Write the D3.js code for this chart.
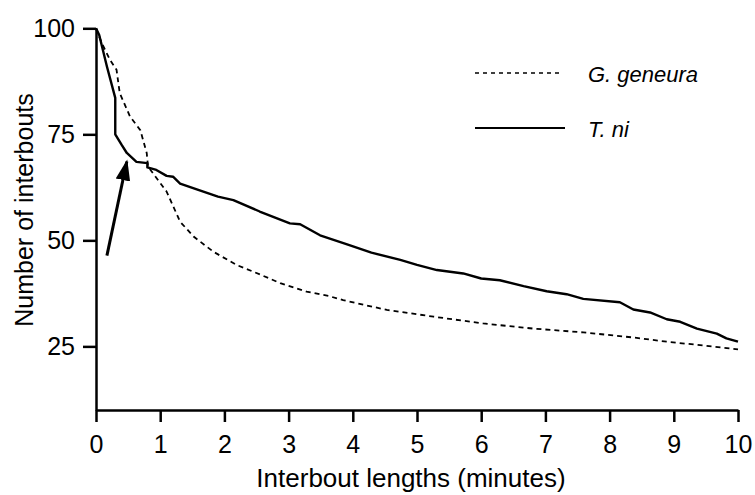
<!DOCTYPE html>
<html>
<head>
<meta charset="utf-8">
<script src="https://cdn.jsdelivr.net/npm/d3@7"></script>
<style>
  body { margin: 0; background: #fff; }
  text { font-family: "Liberation Sans", Arial, Helvetica, sans-serif; fill: #000; }
</style>
</head>
<body>
<div id="chart"></div>
<script>
// T. ni (solid) — time in minutes, number of interbouts
const tniTime  = [0, 0.05, 0.17, 0.3, 0.3, 0.4, 0.48, 0.63, 0.8, 0.8, 0.94, 1.1, 1.2, 1.31, 1.57, 1.9, 2.14, 2.55, 3.02, 3.18, 3.49, 3.9, 4.29, 4.74, 5.0, 5.31, 5.72, 6.0, 6.29, 6.66, 7.02, 7.33, 7.59, 8.16, 8.37, 8.63, 8.89, 9.1, 9.36, 9.67, 9.82, 10];
const tniCount = [100, 98.4, 91, 83.6, 75, 72.5, 70.6, 68.5, 68.2, 67.2, 66.6, 65.2, 65, 63.4, 62, 60.3, 59.5, 56.8, 54, 53.8, 51.2, 49.1, 47.1, 45.4, 44.2, 43, 42.2, 41, 40.6, 39.2, 38, 37.3, 36.2, 35.4, 33.7, 33, 31.4, 30.8, 29.2, 28, 26.9, 26.1];

// G. geneura (dashed)
const genTime  = [0, 0.09, 0.22, 0.32, 0.37, 0.53, 0.69, 0.79, 0.81, 1.1, 1.31, 1.52, 1.83, 2.19, 2.58, 2.87, 3.28, 3.62, 3.85, 4.53, 5.26, 6.03, 6.81, 7.59, 8.37, 8.89, 9.41, 10];
const genCount = [100, 96.5, 92.5, 90.2, 84.7, 79.2, 76, 70.6, 67.4, 61.5, 54.4, 50.9, 47.3, 44.2, 41.8, 39.9, 37.9, 36.9, 35.9, 33.6, 32, 30.4, 29.2, 28.3, 27.1, 26.1, 25.3, 24.3];

const xTicks = [0, 1, 2, 3, 4, 5, 6, 7, 8, 9, 10];
const yTicks = [25, 50, 75, 100];

// arrow: from (time, count) to (time, count)
const arrowFrom = [0.17, 46.4];
const arrowTo = [0.48, 68.6];

const width = 755, height = 495;

const svg = d3.select("#chart").append("svg")
    .attr("width", width)
    .attr("height", height);

const x = d3.scaleLinear().domain([0, 10]).range([96, 738]);
const y = d3.scaleLinear().domain([10, 100]).range([410, 28.3]);

// axes
const xAxis = svg.append("g")
    .attr("transform", "translate(0," + y(10) + ")")
    .call(d3.axisBottom(x).tickValues(xTicks).tickSize(12).tickSizeOuter(0).tickPadding(13));

const yAxis = svg.append("g")
    .attr("transform", "translate(" + x(0) + ",0)")
    .call(d3.axisLeft(y).tickValues(yTicks).tickSize(13).tickSizeOuter(0).tickPadding(8));

[xAxis, yAxis].forEach(function(ax) {
    ax.select(".domain").attr("stroke", "#000").attr("stroke-width", 2.5);
    ax.selectAll(".tick line").attr("stroke", "#000").attr("stroke-width", 2.5);
    ax.selectAll(".tick text")
        .attr("font-family", "Liberation Sans, Arial, sans-serif")
        .attr("font-size", 25)
        .attr("fill", "#000");
});

// lines
const line = d3.line()
    .x(function(d) { return x(d[0]); })
    .y(function(d) { return y(d[1]); });

svg.append("path")
    .datum(genTime.map(function(t, i) { return [t, genCount[i]]; }))
    .attr("d", line)
    .attr("fill", "none")
    .attr("stroke", "#000")
    .attr("stroke-width", 1.8)
    .attr("stroke-dasharray", "5,4");

svg.append("path")
    .datum(tniTime.map(function(t, i) { return [t, tniCount[i]]; }))
    .attr("d", line)
    .attr("fill", "none")
    .attr("stroke", "#000")
    .attr("stroke-width", 2.4)
    .attr("stroke-linejoin", "round");

// arrow
svg.append("defs").append("marker")
    .attr("id", "head")
    .attr("viewBox", "0 0 10 10")
    .attr("refX", 9).attr("refY", 5)
    .attr("markerWidth", 7).attr("markerHeight", 7)
    .attr("markerUnits", "strokeWidth")
    .attr("orient", "auto")
    .append("path")
    .attr("d", "M0,1.5 L10,5 L0,8.5 Z")
    .attr("fill", "#000");

svg.append("line")
    .attr("x1", x(arrowFrom[0])).attr("y1", y(arrowFrom[1]))
    .attr("x2", x(arrowTo[0])).attr("y2", y(arrowTo[1]))
    .attr("stroke", "#000")
    .attr("stroke-width", 3)
    .attr("marker-end", "url(#head)");

// legend
const legend = svg.append("g");
legend.append("line")
    .attr("x1", 475).attr("x2", 560).attr("y1", 73).attr("y2", 73)
    .attr("stroke", "#000").attr("stroke-width", 1.5).attr("stroke-dasharray", "4,4");
legend.append("text")
    .attr("x", 588).attr("y", 82)
    .attr("font-size", 22).attr("font-style", "italic")
    .text("G. geneura");
legend.append("line")
    .attr("x1", 475).attr("x2", 565).attr("y1", 128).attr("y2", 128)
    .attr("stroke", "#000").attr("stroke-width", 2.2);
legend.append("text")
    .attr("x", 588).attr("y", 137)
    .attr("font-size", 22).attr("font-style", "italic")
    .text("T. ni");

// axis titles
svg.append("text")
    .attr("x", 411).attr("y", 487)
    .attr("text-anchor", "middle")
    .attr("font-size", 26)
    .text("Interbout lengths (minutes)");

svg.append("text")
    .attr("transform", "translate(33,210) rotate(-90)")
    .attr("text-anchor", "middle")
    .attr("font-size", 25)
    .text("Number of interbouts");
</script>
</body>
</html>
